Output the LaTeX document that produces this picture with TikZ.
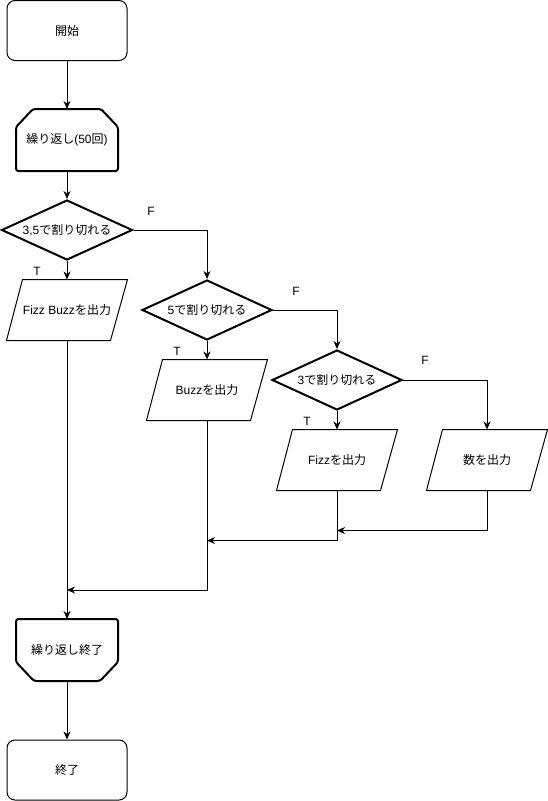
\documentclass[tikz,border=0pt]{standalone}
\usepackage{fontspec}
\setmainfont{Liberation Sans}
\newfontfamily\cjk{Noto Sans CJK JP}
\usetikzlibrary{arrows.meta,shapes.geometric}
\newcommand\drawpara[1]{\draw[line width=1pt,line join=miter] ([xshift=16pt]#1.north west) -- (#1.north east) -- ([xshift=-17pt]#1.south east) -- (#1.south west) -- cycle;}
\begin{document}
\begin{tikzpicture}[x=1pt,y=-1pt,
  every node/.style={font=\fontsize{12}{14}\selectfont},
  term/.style={draw, rectangle, rounded corners=8pt, line width=1pt, minimum width=120pt, minimum height=60pt, inner sep=0pt},
  dec/.style={draw, diamond, line width=2pt, minimum width=131pt, minimum height=60pt, inner sep=0pt, aspect=2.2},
  iobox/.style={rectangle, line width=1pt, minimum width=120pt, minimum height=60pt, inner sep=0pt},
  loopbox/.style={rectangle, line width=2pt, minimum width=100pt, minimum height=60pt, inner sep=0pt},
  arr/.style={line width=1pt, -{Stealth[length=8pt,width=7pt,inset=2.5pt]}},
  lbl/.style={inner sep=0pt}]
\useasboundingbox (0,0) rectangle (547,801);

% terminals
\node[term] (start) at (67,30.5) {\cjk 開始};
\node[term] (end) at (67,770) {\cjk 終了};

% loop limits
\node[loopbox] (loopA) at (67,140) {{\cjk 繰り返し}(50{\cjk 回})};
\draw[line width=2pt, rounded corners=2.5pt]
  ([xshift=17pt]loopA.north west) -- ([xshift=-17pt]loopA.north east)
  -- ([yshift=-18pt]loopA.north east) -- (loopA.south east)
  -- (loopA.south west) -- ([yshift=-18pt]loopA.north west) -- cycle;
\node[loopbox] (loopB) at (67,650) {\cjk 繰り返し終了};
\draw[line width=2pt, rounded corners=2.5pt]
  (loopB.north west) -- (loopB.north east)
  -- ([yshift=19pt]loopB.south east) -- ([xshift=-18pt]loopB.south east)
  -- ([xshift=18pt]loopB.south west) -- ([yshift=19pt]loopB.south west) -- cycle;

% decisions
\node[dec] (d1) at (67,230) {3,5{\cjk で割り切れる}};
\node[dec, minimum width=130pt] (d2) at (207,310) {5{\cjk で割り切れる}};
\node[dec, minimum width=130pt] (d3) at (337,380) {3{\cjk で割り切れる}};

% outputs
\node[iobox] (fb) at (67,310) {Fizz Buzz{\cjk を出力}};
\drawpara{fb}
\node[iobox] (buzz) at (207,390) {Buzz{\cjk を出力}};
\drawpara{buzz}
\node[iobox] (fizz) at (337,460) {Fizz{\cjk を出力}};
\drawpara{fizz}
\node[iobox] (num) at (487,460) {\cjk 数を出力};
\drawpara{num}

% labels
\node[lbl] (f1) at (151,211) {F};
\node[lbl] (t1) at (37,271) {T};
\node[lbl] (f2) at (296,291) {F};
\node[lbl] (t2) at (177,351) {T};
\node[lbl] (f3) at (425,360) {F};
\node[lbl] (t3) at (307,421) {T};

% junctions
\coordinate (j1) at (337,530.5);
\coordinate (j2) at (207,540.5);
\coordinate (j3) at (67,590);

% connectors
\draw[arr] (start) -- (loopA);
\draw[arr] (loopA) -- (d1);
\draw[arr] (d1.east) -| (d2.north);
\draw[arr] (d1) -- (fb);
\draw[arr] (d2.east) -| (d3.north);
\draw[arr] (d2) -- (buzz);
\draw[arr] (d3.east) -| (num.north);
\draw[arr] (d3) -- (fizz);
\draw[arr] (num.south) |- (j1);
\draw[arr] (fizz.south) |- (j2);
\draw[arr] (buzz.south) |- (j3);
\draw[arr] (fb) -- (loopB);
\draw[arr] (loopB) -- (end);
\end{tikzpicture}
\end{document}
